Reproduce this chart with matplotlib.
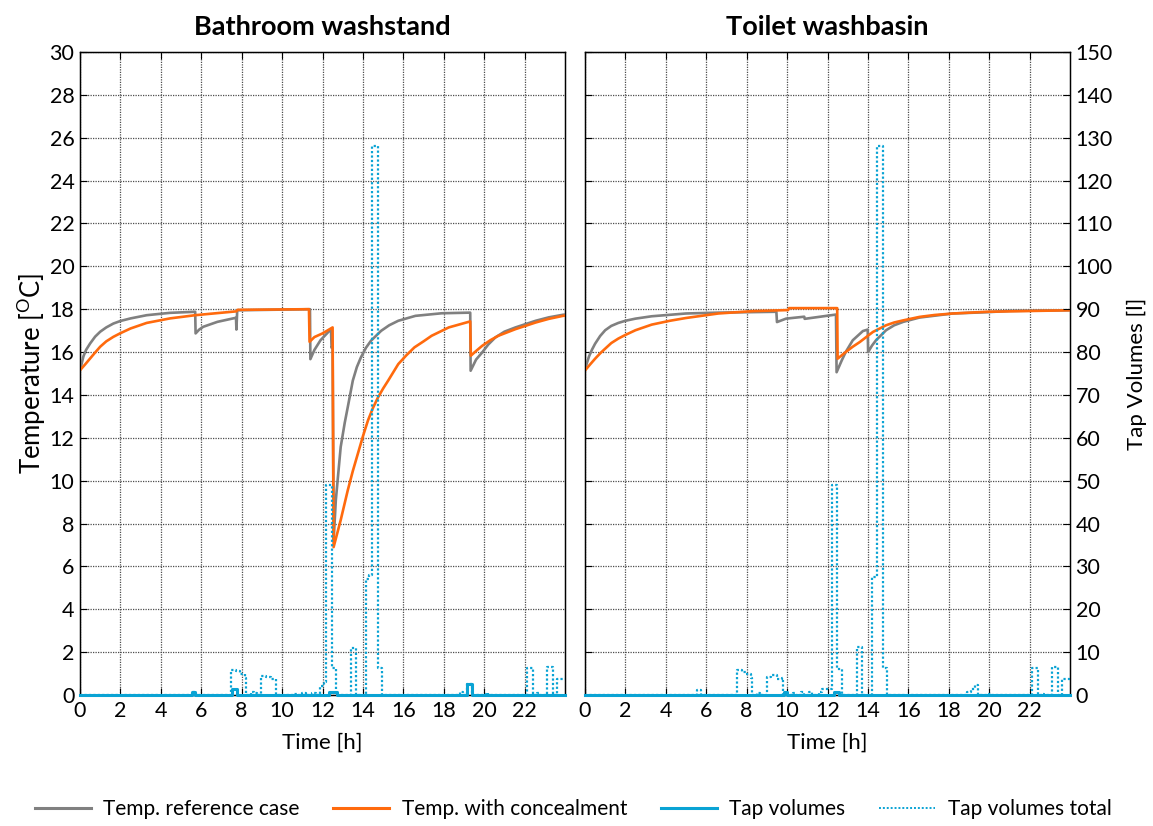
import matplotlib
matplotlib.use("Agg")
import matplotlib.pyplot as plt
from matplotlib.lines import Line2D

plt.rcParams['font.family'] = ['Lato', 'DejaVu Sans']
plt.rcParams['mathtext.fontset'] = 'custom'
plt.rcParams['mathtext.rm'] = 'Lato'

# ---------------- data ----------------
# Bathroom washstand
bath_ref_t = [0, 0.08, 0.17, 0.3, 0.5, 0.75, 1.0, 1.3, 1.65, 2.0, 2.5, 3.3, 4.45, 5.7, 5.72, 5.9, 6.1,
              6.8, 7.72, 7.74, 7.78, 11.38, 11.4, 11.6, 11.9, 12.2, 12.42, 12.45, 12.5, 12.55, 12.66,
              12.9, 13.1, 13.25, 13.5, 13.7, 13.9, 14.15, 14.4, 14.9, 15.3, 15.75, 16.6, 17.9, 19.31,
              19.33, 19.6, 19.9, 20.2, 20.55, 21.0, 21.55, 22.55, 23.2, 23.9, 24]
bath_ref_T = [15.15, 15.45, 15.8, 16.1, 16.4, 16.72, 16.95, 17.15, 17.33, 17.45, 17.57, 17.72, 17.83,
              17.88, 16.87, 17.05, 17.18, 17.41, 17.6, 17.05, 17.95, 18.0, 15.67, 16.1, 16.55, 16.85,
              17.07, 16.2, 16.3, 7.2, 9.1, 11.57, 12.7, 13.43, 14.67, 15.3, 15.75, 16.2, 16.53, 16.99,
              17.25, 17.46, 17.69, 17.81, 17.84, 15.13, 15.65, 15.98, 16.35, 16.68, 16.95, 17.15,
              17.46, 17.62, 17.74, 17.75]
bath_conc_t = [0, 0.25, 0.5, 0.75, 1.0, 1.3, 1.65, 2.0, 2.5, 3.3, 4.45, 5.7, 6.6, 7.74, 7.8, 11.33,
               11.36, 11.6, 12.0, 12.5, 12.55, 12.9, 13.25, 13.5, 13.75, 14.0, 14.25, 14.5, 14.75,
               15.0, 15.25, 15.75, 16.15, 16.55, 17.0, 17.4, 18.25, 19.31, 19.34, 19.6, 19.9, 20.3,
               20.7, 21.55, 22.55, 23.2, 23.9, 24]
bath_conc_T = [15.15, 15.42, 15.7, 15.98, 16.25, 16.5, 16.71, 16.88, 17.1, 17.36, 17.57, 17.72, 17.8,
               17.9, 17.97, 18.0, 16.48, 16.7, 16.87, 17.15, 6.9, 8.16, 9.55, 10.45, 11.26, 12.07,
               12.81, 13.4, 13.89, 14.3, 14.67, 15.44, 15.85, 16.22, 16.5, 16.76, 17.15, 17.43, 15.83,
               16.05, 16.29, 16.55, 16.76, 17.07, 17.38, 17.55, 17.69, 17.7]
bath_tap_t = [0, 5.55, 5.7, 7.5, 7.75, 12.3, 12.7, 19.15, 19.4, 24]
bath_tap_v = [0, 0.7, 0, 1.5, 0, 0.8, 0, 2.5, 0, 0]
bath_total_t = [0, 5.55, 5.75, 7.45, 7.7, 7.9, 8.15, 8.2, 8.45, 8.6, 8.75, 8.95, 9.2, 9.45, 9.7,
                10.6, 10.8, 11.0, 11.2, 11.5, 11.7, 11.9, 12.05, 12.18, 12.47, 12.68, 13.4, 13.65,
                14.15, 14.3, 14.44, 14.75, 14.95, 18.8, 18.95, 19.15, 19.4, 20.1, 20.2, 22.1, 22.4,
                22.6, 22.7, 23.1, 23.4, 23.6, 24]
bath_total_v = [0, 0.8, 0, 5.9, 5.5, 5.0, 4.0, 0, 0.8, 0.4, 0, 4.5, 4.2, 3.8, 0,
                0.3, 0, 0.5, 0, 0.5, 0, 2.0, 3.0, 49, 6.2, 0, 11, 0,
                27, 28, 128, 6.3, 0, 0.8, 0, 2.5, 0, 0.5, 0, 6.3, 0,
                0.5, 0, 6.5, 0, 3.7, 3.7]

# Toilet washbasin
toil_ref_t = [0, 0.08, 0.2, 0.35, 0.5, 0.75, 1.0, 1.3, 1.65, 2.0, 2.5, 3.3, 5.0, 6.6, 9.47, 9.5,
              9.95, 10.85, 10.87, 12.42, 12.45, 12.7, 12.9, 13.25, 13.75, 13.99, 14.01, 14.2, 14.4,
              14.9, 15.3, 15.75, 16.55, 18.2, 19.9, 21.0, 24]
toil_ref_T = [15.14, 15.45, 15.8, 16.12, 16.39, 16.75, 17.02, 17.22, 17.36, 17.46, 17.56, 17.67,
              17.8, 17.84, 17.88, 17.4, 17.56, 17.65, 17.55, 17.75, 15.06, 15.6, 16.0, 16.55,
              16.98, 17.05, 16.0, 16.3, 16.55, 17.02, 17.25, 17.41, 17.61, 17.8, 17.86, 17.92, 17.95]
toil_conc_t = [0, 0.25, 0.5, 0.75, 1.0, 1.3, 1.65, 2.0, 2.5, 3.3, 4.2, 5.0, 6.6, 8.3, 10.05, 10.1,
               12.48, 12.5, 12.9, 13.25, 13.6, 14.25, 14.9, 15.3, 15.75, 16.55, 17.3, 18.2, 19.9, 24]
toil_conc_T = [15.14, 15.42, 15.69, 15.94, 16.16, 16.42, 16.63, 16.8, 17.02, 17.28, 17.46, 17.59,
               17.8, 17.91, 17.96, 18.05, 18.05, 15.69, 16.0, 16.25, 16.47, 16.94, 17.25, 17.38,
               17.48, 17.64, 17.73, 17.8, 17.88, 17.95]
toil_tap_t = [0, 9.85, 10.0, 12.3, 12.55, 24]
toil_tap_v = [0, 0.8, 0, 0.8, 0, 0]
toil_total_t = [0, 5.55, 5.75, 7.5, 7.75, 7.95, 8.2, 8.25, 8.5, 8.65, 9.0, 9.2, 9.5, 9.74, 9.8,
                10.3, 10.45, 10.7, 10.85, 11.1, 11.25, 11.6, 11.75, 12.23, 12.47, 12.7, 13.45, 13.7,
                14.19, 14.45, 14.73, 14.93, 18.9, 19.1, 19.3, 19.45, 20.0, 20.1, 22.1, 22.4, 22.6,
                22.7, 23.1, 23.4, 23.6, 24]
toil_total_v = [0, 1.2, 0, 5.9, 5.4, 4.8, 4.0, 0, 0.5, 0, 4.3, 4.6, 3.8, 4.0, 0,
                0.5, 0, 0.7, 0, 0.7, 0, 0.8, 1.5, 49, 6.0, 0, 11.3, 0,
                27.5, 128, 6.3, 0, 0.8, 1.5, 2.3, 0, 0.3, 0, 6.3, 0, 0.3,
                0, 6.5, 0, 3.7, 3.7]

titles = ["Bathroom washstand", "Toilet washbasin"]
xticks = list(range(0, 24, 2))
temp_ticks = list(range(0, 31, 2))
vol_ticks = list(range(0, 151, 10))

GRAY = '#808080'
ORANGE = '#FF6A0D'
BLUE = '#0AA3D4'
FS = 15.5

fig = plt.figure(figsize=(11.53, 8.26), dpi=100)
W = 485 / 1153
bottom = 1 - 695 / 826
H = (695 - 52) / 826
ax1 = fig.add_axes([80 / 1153, bottom, W, H])
ax2 = fig.add_axes([585 / 1153, bottom, W, H])

panels = [
    (ax1, bath_ref_t, bath_ref_T, bath_conc_t, bath_conc_T, bath_tap_t, bath_tap_v, bath_total_t, bath_total_v),
    (ax2, toil_ref_t, toil_ref_T, toil_conc_t, toil_conc_T, toil_tap_t, toil_tap_v, toil_total_t, toil_total_v),
]

for i, (ax, rt, rT, ct, cT, tt, tv, st, sv) in enumerate(panels):
    ax.plot(rt, rT, color=GRAY, lw=1.9, zorder=3)
    ax.plot(ct, cT, color=ORANGE, lw=1.9, zorder=4)
    ax.set_xlim(0, 24)
    ax.set_ylim(0, 30)
    ax.set_xticks(xticks)
    ax.set_yticks(temp_ticks)
    ax.grid(True, color='0.3', linestyle=(0, (1, 1)), linewidth=0.9)
    ax.tick_params(direction='in', top=True, right=True, length=5, labelsize=FS, pad=4)
    ax.set_xlabel("Time [h]", fontsize=16, labelpad=9)
    ax.set_title(titles[i], fontsize=19.5, fontweight='bold', pad=12)
    for sp in ax.spines.values():
        sp.set_linewidth(1.0)
    if i == 1:
        ax.tick_params(labelleft=False)
    else:
        ax.set_ylabel("Temperature [$^{\\mathrm{O}}$C]", fontsize=18.5, labelpad=1)

    tw = ax.twinx()
    tw.plot(st, sv, color=BLUE, lw=1.6, linestyle=(0, (1, 1)), drawstyle='steps-post', zorder=2)
    tw.plot(tt, tv, color=BLUE, lw=2.2, drawstyle='steps-post', zorder=3, clip_on=False)
    tw.set_ylim(0, 150)
    tw.set_yticks(vol_ticks)
    tw.tick_params(direction='in', length=5, labelsize=FS, pad=4)
    if i == 0:
        tw.tick_params(labelright=False, right=False)
    else:
        tw.set_ylabel("Tap Volumes [l]", fontsize=16, labelpad=10)

handles = [
    Line2D([], [], color=GRAY, lw=2.2),
    Line2D([], [], color=ORANGE, lw=2.2),
    Line2D([], [], color=BLUE, lw=2.2),
    Line2D([], [], color=BLUE, lw=1.4, linestyle=(0, (1, 1))),
]
labels = ["Temp. reference case", "Temp. with concealment", "Tap volumes", "Tap volumes total"]
fig.legend(handles, labels, loc='center', bbox_to_anchor=(0.497, 17 / 826), ncol=4, frameon=False,
           fontsize=15, handlelength=2.7, columnspacing=1.6, handletextpad=0.6)

fig.savefig("out.png", dpi=100)
